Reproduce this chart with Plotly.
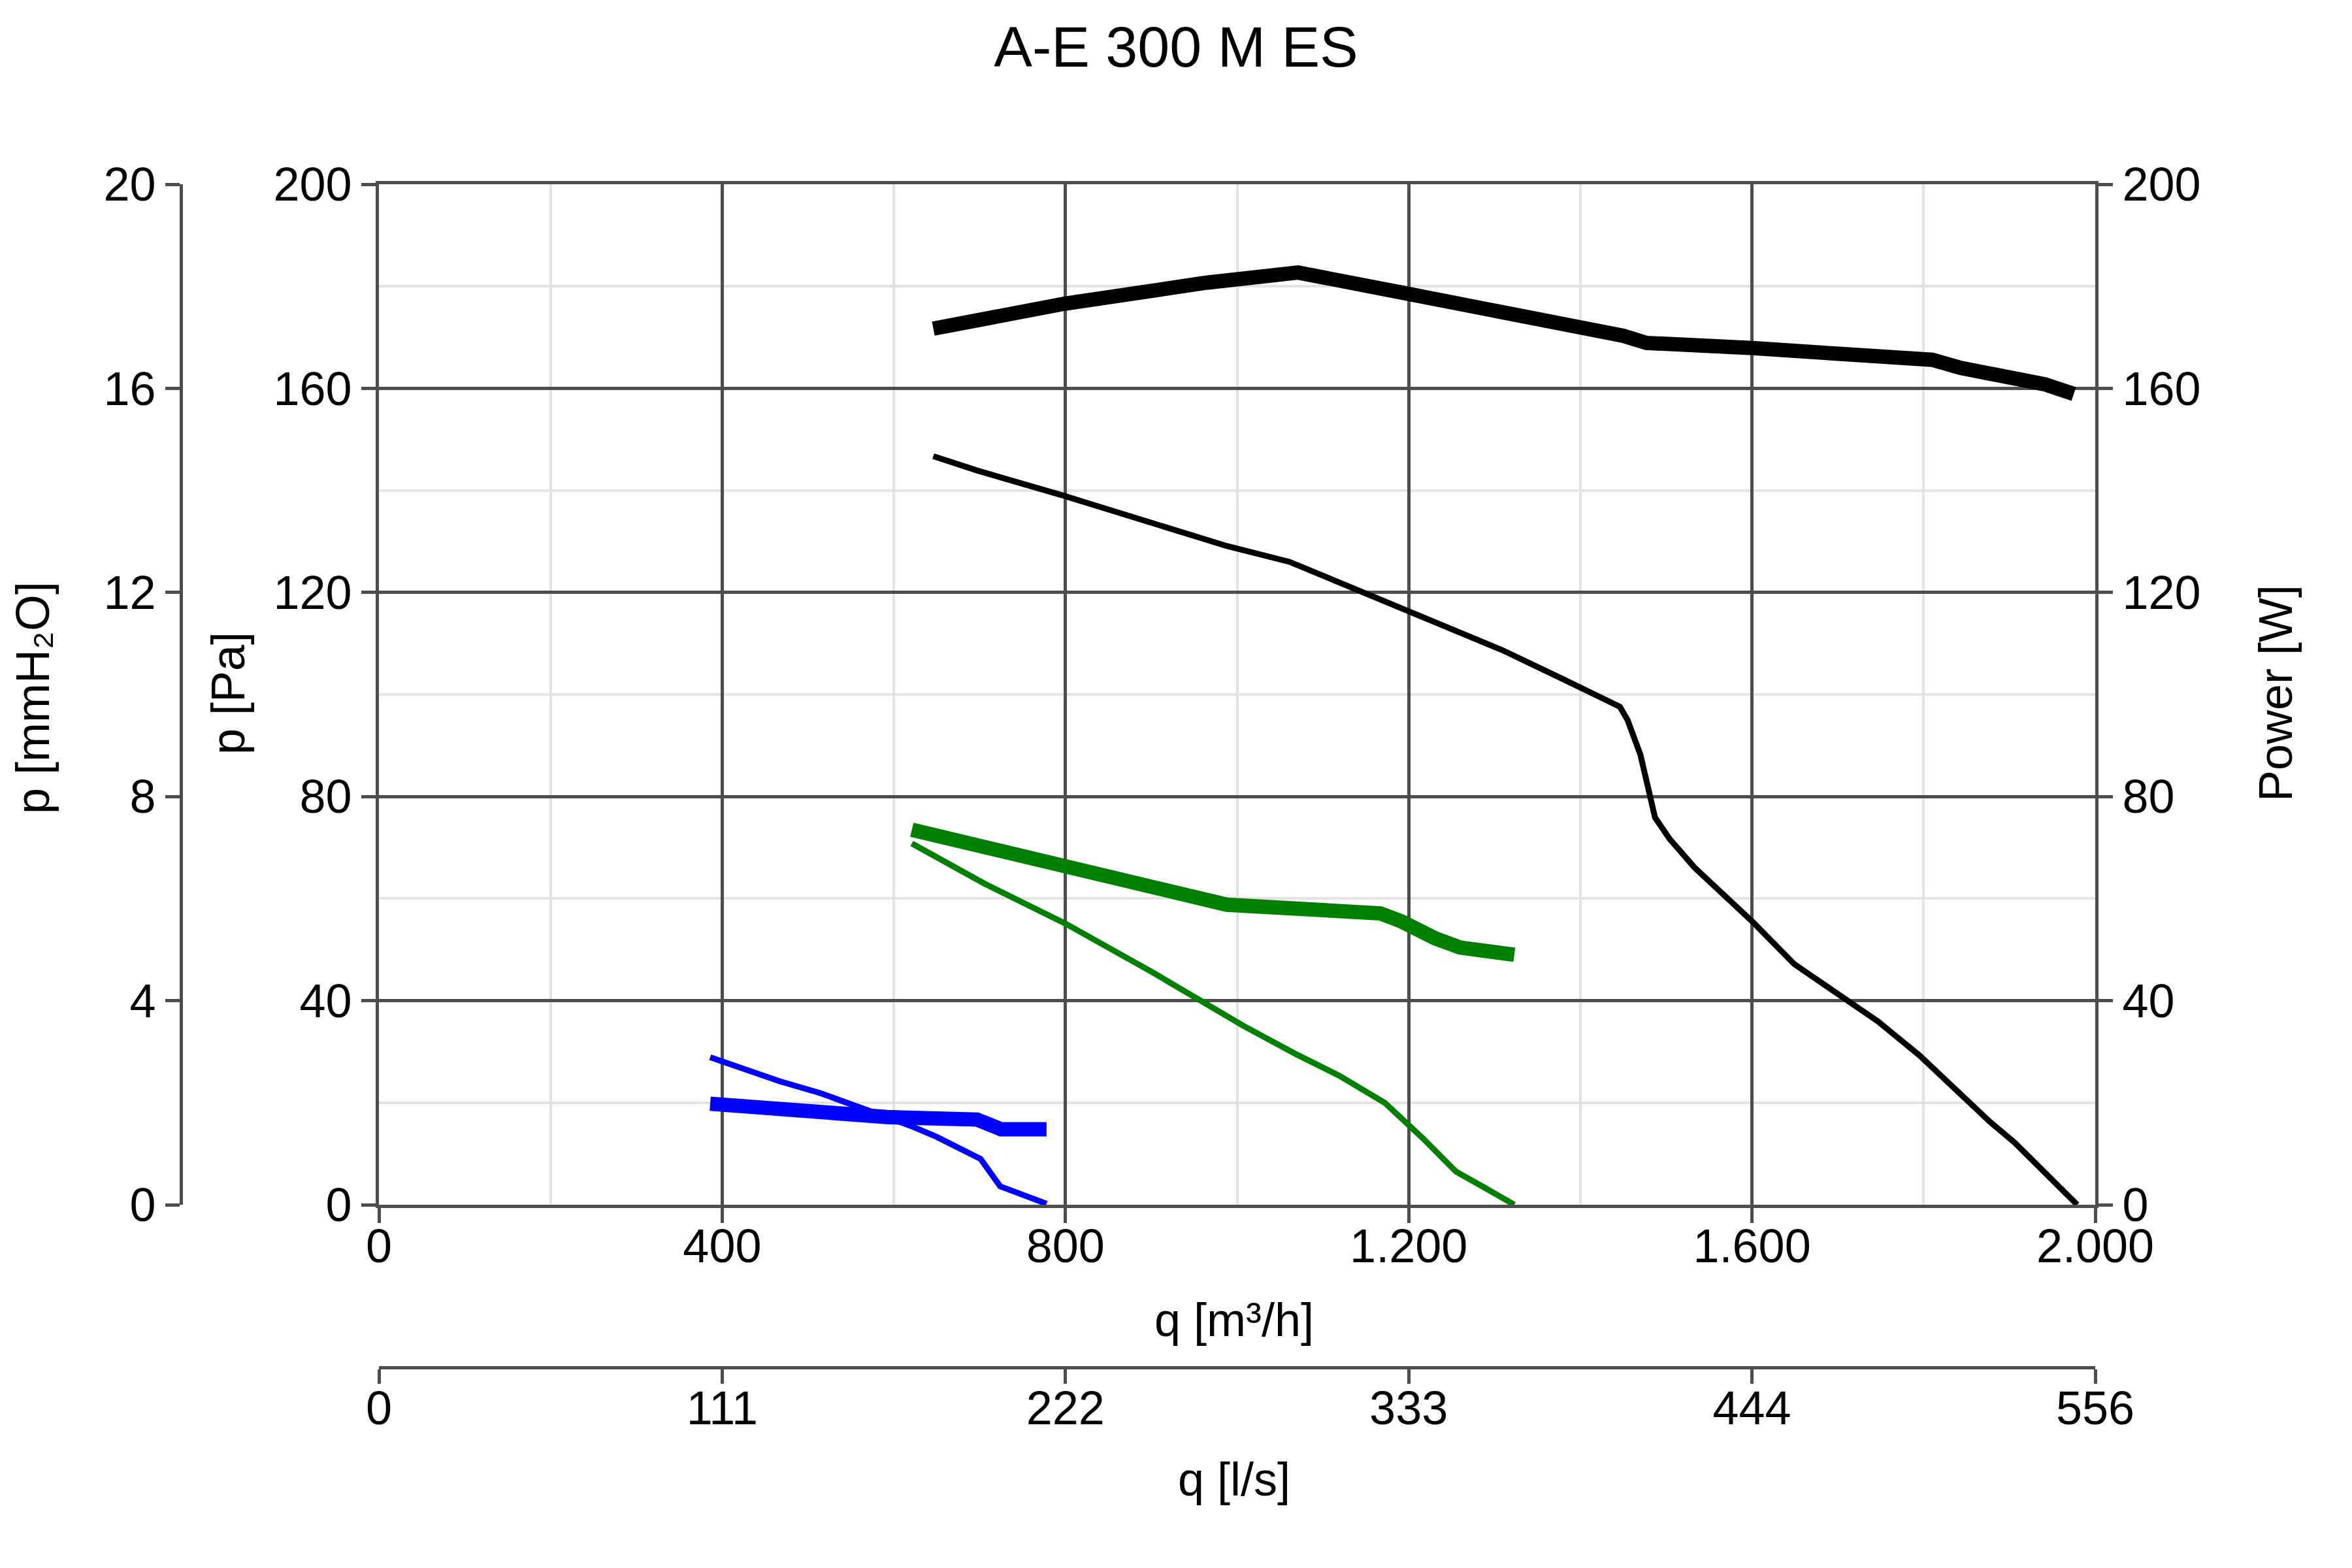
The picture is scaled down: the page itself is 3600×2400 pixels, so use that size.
import plotly.graph_objects as go

# ---------------- data ----------------
# black: pressure (thin) and power (thick)
q_black_p = [646, 697, 799, 988, 1061, 1197, 1309, 1380, 1430, 1446, 1455, 1470, 1487, 1504,
             1533, 1601, 1649, 1747, 1795, 1877, 1906, 1979]
p_black = [146.7, 143.9, 138.9, 129.1, 126.0, 116.6, 108.7, 103.0, 98.9, 97.6, 95.0, 88.2, 75.9, 71.7,
           66.1, 55.4, 47.2, 35.9, 29.3, 16.3, 12.2, 0.0]
q_black_w = [646, 697, 799, 964, 1047, 1071, 1197, 1310, 1450, 1477, 1528, 1601, 1698, 1795,
             1810, 1843, 1941, 1975]
w_black = [171.7, 173.5, 176.6, 180.7, 182.7, 182.7, 178.6, 175.0, 170.3, 168.9, 168.7, 167.9, 166.8, 166.0,
           165.6, 164.0, 160.8, 158.9]

# green: pressure (thin) and power (thick)
q_green_p = [621, 706, 800, 900, 1007, 1070, 1119, 1172, 1216, 1255, 1289, 1323]
p_green = [70.8, 62.9, 55.1, 45.7, 35.1, 29.4, 25.3, 20.0, 13.1, 6.5, 3.3, 0.0]
q_green_w = [621, 658, 793, 876, 988, 1167, 1192, 1231, 1260, 1323]
w_green = [73.5, 72.0, 66.1, 62.9, 58.8, 57.1, 55.5, 52.2, 50.4, 49.0]

# blue: pressure (thin) and power (thick)
q_blue_p = [386, 467, 514, 572, 619, 650, 701, 724, 778]
p_blue = [28.9, 24.2, 21.9, 18.4, 15.5, 13.3, 9.0, 3.6, 0.2]
q_blue_w = [386, 475, 592, 609, 697, 725, 778]
w_blue = [19.8, 18.4, 17.2, 17.1, 16.7, 14.8, 14.8]

# ticks
x_ticks = [0, 400, 800, 1200, 1600, 2000]
x_tick_text = ["0", "400", "800", "1.200", "1.600", "2.000"]
x_minor = [200, 600, 1000, 1400, 1800]
ls_ticks = [0, 111.11, 222.22, 333.33, 444.44, 555.56]
ls_tick_text = ["0", "111", "222", "333", "444", "556"]
pa_ticks = [0, 40, 80, 120, 160, 200]
pa_minor = [20, 60, 100, 140, 180]
mm_ticks = [0, 4, 8, 12, 16, 20]
w_ticks = [0, 40, 80, 120, 160, 200]

# ---------------- styling ----------------
W, H = 3600, 2400
ML, MR, MT, MB = 150, 300, 200, 100
WP, HP = W - ML - MR, H - MT - MB


def xp(px):
    return (px - ML) / WP


def yp(py):
    return (H - MB - py) / HP


DARK = "#4d4d4d"
LIGHT = "#e2e2e2"
FONT = "Liberation Sans, Arial, sans-serif"
FS = 72
THIN, THICK = 9, 22

x0, x1 = 580, 3207
ytop, ybot = 282, 1844
xdom = [xp(x0), xp(x1)]
ydom = [yp(ybot), yp(ytop)]

fig = go.Figure()


def add(q, v, color, width, yaxis):
    fig.add_trace(go.Scatter(x=q, y=v, mode="lines", xaxis="x", yaxis=yaxis,
                             line=dict(color=color, width=width), showlegend=False,
                             hoverinfo="skip"))


add(q_blue_p, p_blue, "#0000ff", THIN, "y")
add(q_blue_w, w_blue, "#0000ff", THICK, "y3")
add(q_green_p, p_green, "#008000", THIN, "y")
add(q_green_w, w_green, "#008000", THICK, "y3")
add(q_black_p, p_black, "#000000", THIN, "y")
add(q_black_w, w_black, "#000000", THICK, "y3")
# empty traces so the extra unit axes get their subplots
fig.add_trace(go.Scatter(x=[], y=[], xaxis="x2", yaxis="y", showlegend=False, hoverinfo="skip"))
fig.add_trace(go.Scatter(x=[], y=[], xaxis="x", yaxis="y2", showlegend=False, hoverinfo="skip"))

common = dict(ticks="outside", tickwidth=5, tickcolor=DARK, showline=True, linecolor=DARK,
              linewidth=5, zeroline=False, automargin=False,
              tickfont=dict(family=FONT, size=FS, color="black"))

fig.update_layout(
    width=W, height=H,
    margin=dict(l=ML, r=MR, t=MT, b=MB, pad=0, autoexpand=False),
    paper_bgcolor="white", plot_bgcolor="white",
    showlegend=False,
    font=dict(family=FONT, size=FS, color="black"),
    title=dict(text="A-E 300 M ES", x=0.5, xref="container", xanchor="center",
               y=1 - 71 / H, yref="container", yanchor="middle",
               font=dict(family=FONT, size=88, color="black")),
    xaxis=dict(domain=xdom, range=[0, 2000], anchor="y", side="bottom",
               tickmode="array", tickvals=x_ticks, ticktext=x_tick_text, ticklen=23,
               ticklabelstandoff=-26,
               mirror=True, showgrid=True, gridcolor=DARK, gridwidth=5,
               minor=dict(tickmode="array", tickvals=x_minor, showgrid=True,
                          gridcolor=LIGHT, gridwidth=4, ticks=""),
               **common),
    yaxis=dict(domain=ydom, range=[0, 200], anchor="x", side="left",
               tickmode="array", tickvals=pa_ticks, ticklen=22,
               mirror=True, showgrid=True, gridcolor=DARK, gridwidth=5,
               minor=dict(tickmode="array", tickvals=pa_minor, showgrid=True,
                          gridcolor=LIGHT, gridwidth=4, ticks=""),
               **common),
    yaxis2=dict(overlaying="y", anchor="free", position=xp(277), side="left",
                range=[0, 20], tickmode="array", tickvals=mm_ticks, ticklen=22,
                showgrid=False, **common),
    yaxis3=dict(overlaying="y", anchor="x", side="right",
                range=[0, 200], tickmode="array", tickvals=w_ticks, ticklen=22,
                showgrid=False, **common),
    xaxis2=dict(overlaying="x", anchor="free", position=yp(2093), side="bottom",
                range=[0, 555.56], tickmode="array", tickvals=ls_ticks, ticktext=ls_tick_text,
                ticklen=22, ticklabelstandoff=-24, showgrid=False, **common),
)

ann = dict(showarrow=False, xref="paper", yref="paper", xanchor="center", yanchor="middle",
           font=dict(family=FONT, size=FS, color="black"))
fig.add_annotation(text="q [m³/h]", x=xp(1889), y=yp(2020), **ann)
fig.add_annotation(text="q [l/s]", x=xp(1889), y=yp(2264), **ann)
fig.add_annotation(text="p [Pa]", x=xp(349), y=yp(1061), textangle=-90, **ann)
fig.add_annotation(text="p [mmH₂O]", x=xp(50), y=yp(1068), textangle=-90, **ann)
fig.add_annotation(text="Power [W]", x=xp(3483), y=yp(1061), textangle=-90, **ann)

fig.write_html("out.html")
